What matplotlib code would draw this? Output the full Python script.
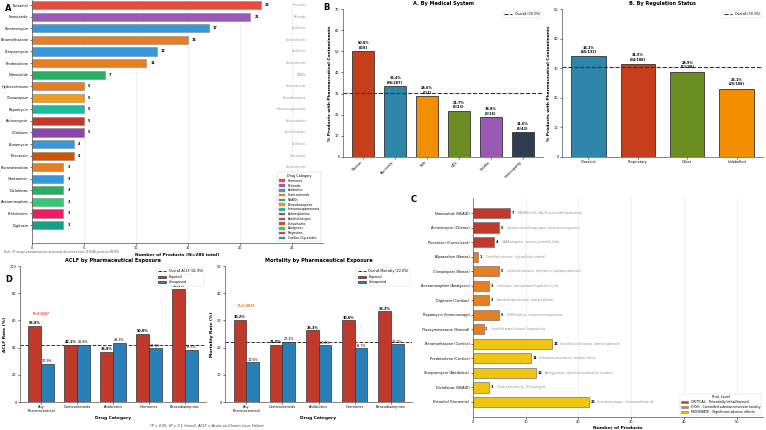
import matplotlib
matplotlib.use("Agg")
import matplotlib.pyplot as plt
from matplotlib.patches import Patch
import numpy as np

# ---- Panel A data ----
a_drugs = ["Estradiol", "Finasteride", "Paromomycin", "Betamethasone", "Streptomycin",
           "Prednisolone", "Nimesulide", "Hydrocortisone", "Clonazepam", "Rapamycin",
           "Actinomycin", "Clidinium", "Bunamycin", "Picrotoxin", "Flurandrenolide",
           "Gentamicin", "Diclofenac", "Acetaminophen", "Ethisterone", "Digitoxin"]
a_counts = [22, 21, 17, 15, 12, 11, 7, 5, 5, 5, 5, 5, 4, 4, 3, 3, 3, 3, 3, 3]
a_cats = ["Hormones", "Retinoids", "Antibiotics", "Corticosteroids", "Antibiotics",
          "Corticosteroids", "NSAIDs", "Corticosteroids", "Benzodiazepines", "Immunosuppressants",
          "Antineoplastics", "Anticholinergics", "Antibiotics", "Convulsants", "Corticosteroids",
          "Antibiotics", "NSAIDs", "Analgesics", "Progestins", "Cardiac Glycosides"]
cat_colors = {
    "Hormones": "#e74c3c", "Retinoids": "#9b59b6", "Antibiotics": "#3498db",
    "Corticosteroids": "#e67e22", "NSAIDs": "#27ae60", "Benzodiazepines": "#f39c12",
    "Immunosuppressants": "#1abc9c", "Antineoplastics": "#c0392b", "Anticholinergics": "#8e44ad",
    "Convulsants": "#d35400", "Analgesics": "#2ecc71", "Progestins": "#e91e63",
    "Cardiac Glycosides": "#16a085",
}

# ---- Panel B data ----
sys_names = ["Tibetan", "Ayurveda", "Folk", "HDS", "Siddha", "Homeopathy"]
sys_pct = [50.0, 33.4, 28.6, 21.7, 18.8, 11.6]
sys_frac = ["4/8", "96/287", "2/7", "5/23", "3/16", "5/43"]
sys_colors = ["#c73e1d", "#2e86ab", "#f18f01", "#6b8e23", "#9b59b6", "#2c3e50"]

reg_names = ["Classical", "Proprietary", "Other", "Unlabelled"]
reg_pct = [34.1, 31.5, 28.9, 23.1]
reg_frac = ["45/132", "34/108", "11/38", "25/108"]
reg_colors = ["#2e86ab", "#c73e1d", "#6b8e23", "#f18f01"]
overall_pct = 30.3

# ---- Panel C data ----
c_drugs = ["Nimesulide (NSAID)", "Actinomycin (Chemo)", "Picrotoxin (Convulsant)",
           "Alprazolam (Benzo)", "Clonazepam (Benzo)", "Acetaminophen (Analgesic)",
           "Digitoxin (Cardiac)", "Rapamycin (Immunosupp)", "Fluoxymesterone (Steroid)",
           "Betamethasone (Cortico)", "Prednisolone (Cortico)", "Streptomycin (Antibiotic)",
           "Diclofenac (NSAID)", "Estradiol (Hormone)"]
c_counts = [7, 5, 4, 1, 5, 3, 3, 5, 2, 15, 11, 12, 3, 22]
c_risk = ["CRITICAL"] * 3 + ["HIGH"] * 6 + ["MODERATE"] * 5
c_notes = ["BANNED in EU, USA, UK due to fatal hepatotoxicity",
           "Cytotoxic chemotherapy agent - bone marrow suppression",
           "GABA antagonist - seizures, potentially lethal",
           "Controlled substance - high addiction potential",
           "Controlled substance - dependence, respiratory depression",
           "Undeclared - dose-dependent hepatotoxicity risk",
           "Narrow therapeutic index - fatal arrhythmias",
           "mTOR inhibitor - severe immunosuppression",
           "Controlled anabolic steroid - hepatotoxicity",
           "Undeclared corticosteroid - adrenal suppression",
           "Undeclared corticosteroid - metabolic effects",
           "Aminoglycoside - nephrotoxicity/ototoxicity, resistance",
           "GI black box warning - GI bleeding risk",
           "Undeclared estrogen - thromboembolism risk"]
risk_colors = {"CRITICAL": "#c0392b", "HIGH": "#e67e22", "MODERATE": "#f1c40f"}
risk_labels = {"CRITICAL": "CRITICAL - Potentially lethal/banned",
               "HIGH": "HIGH - Controlled substance/severe toxicity",
               "MODERATE": "MODERATE - Significant adverse effects"}

# ---- Panel D data ----
d_cats = ["Any\nPharmaceutical", "Corticosteroids", "Antibiotics", "Hormones", "Benzodiazepines"]
aclf_exp = [55.8, 42.1, 36.8, 50.0, 83.3]
aclf_unexp = [27.9, 41.8, 43.3, 39.5, 38.5]
mort_exp = [30.2, 21.0, 26.3, 30.0, 33.3]
mort_unexp = [14.6, 22.2, 20.8, 19.7, 21.2]
overall_aclf = 41.9
overall_mort = 22.0

W, H = 766, 430
TITLE = 3.6
LABEL = 3.2
TICK = 2.5
VAL = 2.4
LEG = 2.3


def rect(l, t, r, b):
    return [l / W, 1 - b / H, (r - l) / W, (b - t) / H]


def style(ax):
    for s in ["top", "right"]:
        ax.spines[s].set_visible(False)
    for s in ["left", "bottom"]:
        ax.spines[s].set_linewidth(0.5)
        ax.spines[s].set_color("#555555")
    ax.tick_params(labelsize=TICK, width=0.4, length=1.5, pad=1)


fig = plt.figure(figsize=(W / 100, H / 100), dpi=100)

# ================= Panel A =================
ax = fig.add_axes(rect(32, 0, 323, 243))
ya = np.arange(len(a_drugs))
ax.barh(ya, a_counts, height=0.7, color=[cat_colors[c] for c in a_cats],
        edgecolor="#888888", linewidth=0.4)
for y, v, c in zip(ya, a_counts, a_cats):
    ax.text(v + 0.4, y, str(v), va="center", ha="left", fontsize=VAL, fontweight="bold")
    ax.text(26.4, y, c, va="center", ha="right", fontsize=2.0, color="#999999", zorder=1)
ax.set_yticks(ya)
ax.set_yticklabels(a_drugs)
ax.set_ylim(20.55, -0.45)
ax.set_xlim(0, 28)
ax.set_xticks([0, 5, 10, 15, 20, 25])
ax.grid(axis="x", color="#e6e6e6", linewidth=0.4)
ax.set_axisbelow(True)
style(ax)
ax.set_xlabel("Number of Products (N=286 total)", fontsize=LABEL, fontweight="bold", labelpad=2)
handles = [Patch(facecolor=col, edgecolor="#888888", linewidth=0.3, label=name)
           for name, col in cat_colors.items()]
leg = ax.legend(handles=handles, loc="lower right", title="Drug Category", fontsize=2.2,
                title_fontsize=2.4, frameon=True, framealpha=1.0, handlelength=2.0,
                handleheight=0.9, labelspacing=0.25, borderpad=0.5)
leg.get_frame().set_linewidth(0.3)
leg.set_zorder(10)
fig.text(4 / W, 1 - 252 / H, "Note: 37 unique pharmaceutical compounds detected across 117/286 products (40.9%)",
         fontsize=1.9, color="#555555", style="italic", va="center")

# ================= Panel B =================
def bar_panel(axb, names, pct, frac, colors, ymax, title, rot):
    x = np.arange(len(names))
    axb.bar(x, pct, width=0.7, color=colors, edgecolor="#333333", linewidth=0.6)
    for xi, p, f in zip(x, pct, frac):
        axb.text(xi, p + 0.8, f"{p:.1f}%\n({f})", ha="center", va="bottom",
                 fontsize=VAL, fontweight="bold", linespacing=1.1)
    axb.axhline(overall_pct, color="#333333", linestyle="--", linewidth=0.8,
                label=f"Overall ({overall_pct}%)")
    axb.set_ylim(0, ymax)
    axb.set_xticks(x)
    if rot:
        axb.set_xticklabels(names, rotation=45, ha="right")
    else:
        axb.set_xticklabels(names)
    axb.set_title(title, fontsize=TITLE, fontweight="bold", pad=3)
    axb.set_ylabel("% Products with Pharmaceutical Contaminants", fontsize=LABEL,
                   fontweight="bold", labelpad=2)
    style(axb)
    lg = axb.legend(loc="upper right", fontsize=LEG, handlelength=2.5, borderpad=0.5)
    lg.get_frame().set_linewidth(0.3)


ax_b1 = fig.add_axes(rect(343, 9.3, 543, 156.7))
bar_panel(ax_b1, sys_names, sys_pct, sys_frac, sys_colors, 70, "A. By Medical System", True)
ax_b2 = fig.add_axes(rect(562, 9.3, 763, 156.7))
bar_panel(ax_b2, reg_names, reg_pct, reg_frac, reg_colors, 50, "B. By Regulation Status", False)

# ================= Panel C =================
ax_c = fig.add_axes(rect(473, 198, 763, 417))
yc = np.arange(len(c_drugs))
ax_c.barh(yc, c_counts, height=0.7, color=[risk_colors[r] for r in c_risk],
          edgecolor="#777777", linewidth=0.5)
for y, v, note in zip(yc, c_counts, c_notes):
    ax_c.text(v + 0.3, y, str(v), va="center", ha="left", fontsize=VAL, fontweight="bold")
    ax_c.text(v + 1.5, y, note, va="center", ha="left", fontsize=1.8, color="#888888",
              style="italic")
ax_c.set_yticks(yc)
ax_c.set_yticklabels(c_drugs)
ax_c.invert_yaxis()
ax_c.set_xlim(0, 55)
ax_c.grid(axis="x", color="#e6e6e6", linewidth=0.4)
ax_c.set_axisbelow(True)
style(ax_c)
ax_c.set_xlabel("Number of Products", fontsize=LABEL, fontweight="bold", labelpad=1)
rh = [Patch(facecolor=risk_colors[k], edgecolor="#777777", linewidth=0.4, label=risk_labels[k])
      for k in ["CRITICAL", "HIGH", "MODERATE"]]
lg = ax_c.legend(handles=rh, loc="lower right", title="Risk Level", fontsize=2.3,
                 title_fontsize=2.5, handlelength=2.2, labelspacing=0.3)
lg.get_frame().set_linewidth(0.3)

# ================= Panel D =================
def group_panel(axd, exp, unexp, ymax, overall, olabel, title, ylabel):
    x = np.arange(len(d_cats))
    w = 0.35
    line = axd.axhline(overall, color="#333333", linestyle="--", linewidth=0.7,
                       label=f"{olabel} ({overall}%)", zorder=1)
    be = axd.bar(x - w / 2, exp, width=w, color="#c0392b", edgecolor="#333333", linewidth=0.5,
                 label="Exposed", zorder=2)
    bu = axd.bar(x + w / 2, unexp, width=w, color="#2980b9", edgecolor="#333333", linewidth=0.5,
                 label="Unexposed", zorder=2)
    for xi, e, u in zip(x, exp, unexp):
        axd.text(xi - w / 2, e + ymax * 0.005, f"{e:.1f}%", ha="center", va="bottom",
                 fontsize=VAL, fontweight="bold")
        axd.text(xi + w / 2, u + ymax * 0.005, f"{u:.1f}%", ha="center", va="bottom",
                 fontsize=VAL)
    axd.set_ylim(0, ymax)
    axd.set_xticks(x)
    axd.set_xticklabels(d_cats, linespacing=1.0)
    axd.set_title(title, fontsize=TITLE, fontweight="bold", pad=3)
    axd.set_ylabel(ylabel, fontsize=LABEL, fontweight="bold", labelpad=2)
    axd.set_xlabel("Drug Category", fontsize=LABEL, fontweight="bold", labelpad=2)
    style(axd)
    lg = axd.legend([line, be, bu], [line.get_label(), "Exposed", "Unexposed"],
                    loc="upper right", fontsize=LEG, handlelength=2.5, borderpad=0.5,
                    framealpha=0.85)
    lg.get_frame().set_linewidth(0.3)
    lg.set_zorder(5)


ax_d1 = fig.add_axes(rect(20, 266, 206, 402))
group_panel(ax_d1, aclf_exp, aclf_unexp, 100, overall_aclf, "Overall ACLF",
            "ACLF by Pharmaceutical Exposure", "ACLF Rate (%)")
ax_d1.text(0, 63.5, "P=0.016*", ha="center", va="bottom", fontsize=VAL,
           fontweight="bold", color="#e74c3c")
ax_d1.text(4, 92, "P=0.070\u2020", ha="center", va="bottom", fontsize=VAL,
           fontweight="bold", color="#e67e22")

ax_d2 = fig.add_axes(rect(225, 266, 412, 402))
group_panel(ax_d2, mort_exp, mort_unexp, 50, overall_mort, "Overall Mortality",
            "Mortality by Pharmaceutical Exposure", "Mortality Rate (%)")
ax_d2.text(0, 34.5, "P=0.082\u2020", ha="center", va="bottom", fontsize=VAL,
           fontweight="bold", color="#e67e22")

fig.text(207 / W, 1 - 425 / H,
         "*P < 0.05; \u2020P < 0.1 (trend); ACLF = Acute-on-Chronic Liver Failure",
         fontsize=2.4, style="italic", ha="center", va="center", color="#333333")

# ---- panel letters ----
for letter, (px, py) in {"A": (8.5, 8.5), "B": (326, 8), "C": (414, 199), "D": (8.5, 280)}.items():
    fig.text(px / W, 1 - py / H, letter, fontsize=6, fontweight="bold", ha="center", va="center")

fig.savefig("out.png", dpi=100)
